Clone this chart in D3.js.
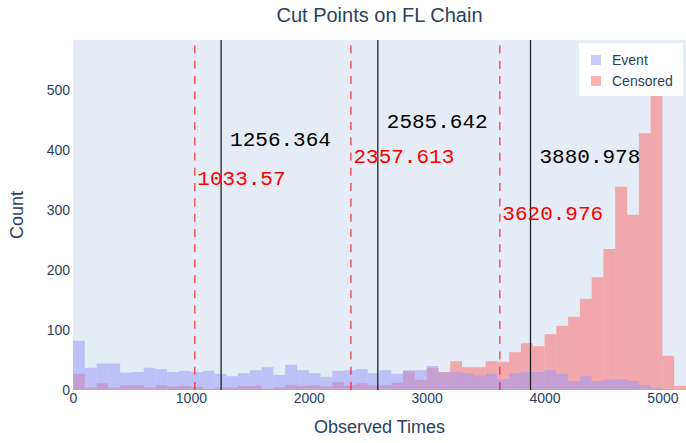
<!DOCTYPE html>
<html>
<head>
<meta charset="utf-8">
<script src="https://cdn.jsdelivr.net/npm/d3@7"></script>
<style>
  body { margin: 0; background: #fff; }
  svg text { font-family: "Liberation Sans", Arial, sans-serif; }
</style>
</head>
<body>
<svg id="chart" width="686" height="443"></svg>
<script>
// histogram bins, width 100
const binStarts = [0, 100, 200, 300, 400, 500, 600, 700, 800, 900,
                   1000, 1100, 1200, 1300, 1400, 1500, 1600, 1700, 1800, 1900,
                   2000, 2100, 2200, 2300, 2400, 2500, 2600, 2700, 2800, 2900,
                   3000, 3100, 3200, 3300, 3400, 3500, 3600, 3700, 3800, 3900,
                   4000, 4100, 4200, 4300, 4400, 4500, 4600, 4700, 4800, 4900,
                   5000, 5100];
const binWidth = 100;

const eventCounts = [82, 37, 44, 44, 29, 30, 37, 35, 30, 32,
                     30, 32, 27, 23, 28, 33, 38, 25, 42, 33,
                     28, 22, 32, 33, 35, 28, 33, 27, 33, 33,
                     40, 29, 30, 28, 24, 27, 18, 28, 30, 30,
                     33, 27, 15, 23, 15, 17, 18, 15, 8, 3,
                     1, 0];
const censoredCounts = [27, 4, 11, 4, 8, 8, 4, 8, 6, 7,
                        5, 2, 4, 4, 7, 7, 2, 4, 8, 7,
                        8, 6, 13, 8, 11, 8, 8, 12, 31, 17,
                        37, 30, 48, 38, 38, 48, 47, 63, 78, 73,
                        93, 107, 122, 152, 188, 235, 339, 292, 428, 555,
                        57, 7];

const solidCuts = [1256.364, 2585.642, 3880.978];
const solidLabelY = [415, 445, 387];
const dashedCuts = [1033.57, 2357.613, 3620.976];
const dashedLabelY = [350, 387, 293];

const xTicks = [0, 1000, 2000, 3000, 4000, 5000];
const yTicks = [0, 100, 200, 300, 400, 500];

const plotL = 73, plotR = 686, plotT = 40, plotB = 390;
const ink = "#2a3f5f";

const x = d3.scaleLinear().domain([0, 5200]).range([plotL, plotR]);
const y = d3.scaleLinear().domain([0, 583.3]).range([plotB, plotT]);

const svg = d3.select("svg#chart");

svg.append("rect")
   .attr("x", plotL).attr("y", plotT)
   .attr("width", plotR - plotL).attr("height", plotB - plotT)
   .attr("fill", "#e5ecf6");

function drawBars(counts, color) {
    svg.append("g")
       .selectAll("rect")
       .data(counts)
       .enter().append("rect")
               .attr("x", (d, i) => x(binStarts[i]))
               .attr("width", (d, i) => x(binStarts[i] + binWidth) - x(binStarts[i]))
               .attr("y", d => y(d))
               .attr("height", d => y(0) - y(d))
               .attr("fill", color)
               .attr("fill-opacity", 0.5);
}
drawBars(censoredCounts, "rgb(253,100,100)");
drawBars(eventCounts, "rgb(150,150,250)");

// cut point lines, drawn bottom-up so dashes start at the axis
svg.append("g")
   .selectAll("line")
   .data(dashedCuts)
   .enter().append("line")
           .attr("x1", d => x(d)).attr("x2", d => x(d))
           .attr("y1", y(0)).attr("y2", plotT)
           .attr("stroke", "red")
           .attr("stroke-opacity", 0.8)
           .attr("stroke-width", 1.2)
           .attr("stroke-dasharray", "8,7.3");

svg.append("g")
   .selectAll("line")
   .data(solidCuts)
   .enter().append("line")
           .attr("x1", d => x(d)).attr("x2", d => x(d))
           .attr("y1", y(0)).attr("y2", plotT)
           .attr("stroke", "#222")
           .attr("stroke-width", 1.3);

function drawLabels(cuts, ys, color, dx) {
    svg.append("g")
       .selectAll("text")
       .data(cuts)
       .enter().append("text")
               .attr("x", d => x(d) + dx)
               .attr("y", (d, i) => y(ys[i]))
               .attr("dominant-baseline", "central")
               .style("font-family", "'Liberation Mono', 'Courier New', monospace")
               .style("font-size", "21px")
               .attr("fill", color)
               .text(d => String(d));
}
drawLabels(solidCuts, solidLabelY, "black", 9);
drawLabels(dashedCuts, dashedLabelY, "red", 2.5);

// axes
const gx = svg.append("g")
              .attr("transform", `translate(0, ${plotB})`)
              .call(d3.axisBottom(x).tickValues(xTicks).tickFormat(d3.format("d"))
                      .tickSize(0).tickPadding(3));
const gy = svg.append("g")
              .attr("transform", `translate(${plotL}, 0)`)
              .call(d3.axisLeft(y).tickValues(yTicks).tickSize(0).tickPadding(3));
[gx, gy].forEach(g => {
    g.select(".domain").remove();
    g.selectAll("text")
     .attr("fill", ink)
     .style("font-size", "14px")
     .style("font-family", "'Liberation Sans', Arial, sans-serif");
});

svg.append("text")
   .attr("x", (plotL + plotR) / 2).attr("y", 22)
   .attr("text-anchor", "middle")
   .attr("fill", ink)
   .style("font-size", "20px")
   .text("Cut Points on FL Chain");

svg.append("text")
   .attr("x", (plotL + plotR) / 2).attr("y", 433)
   .attr("text-anchor", "middle")
   .attr("fill", ink)
   .style("font-size", "18px")
   .text("Observed Times");

svg.append("text")
   .attr("transform", `translate(17, ${(plotT + plotB) / 2}) rotate(-90)`)
   .attr("text-anchor", "middle")
   .attr("dominant-baseline", "central")
   .attr("fill", ink)
   .style("font-size", "18px")
   .text("Count");

// legend
const legend = svg.append("g").attr("transform", "translate(579, 43)");
legend.append("rect")
      .attr("width", 104).attr("height", 53)
      .attr("fill", "white");
const items = legend.selectAll(".item")
                    .data([["Event", "rgb(150,150,250)"], ["Censored", "rgb(253,100,100)"]])
                    .enter().append("g")
                            .attr("class", "item")
                            .attr("transform", (d, i) => `translate(0, ${17 + i * 21})`);
items.append("rect")
     .attr("x", 12).attr("y", -5)
     .attr("width", 10).attr("height", 10)
     .attr("fill", d => d[1])
     .attr("fill-opacity", 0.5);
items.append("text")
     .attr("x", 33)
     .attr("dominant-baseline", "central")
     .attr("fill", ink)
     .style("font-size", "14px")
     .text(d => d[0]);
</script>
</body>
</html>
